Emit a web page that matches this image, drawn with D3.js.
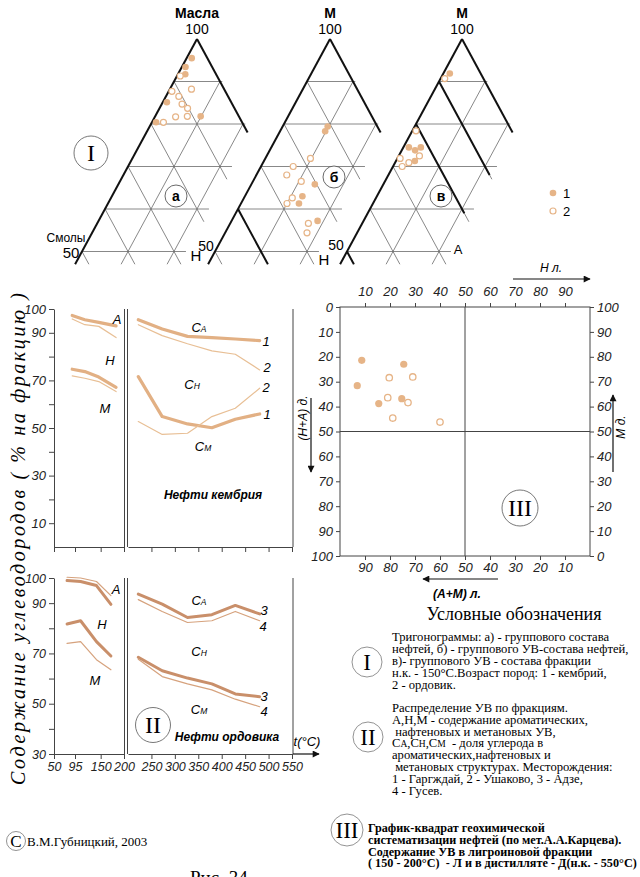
<!DOCTYPE html>
<html lang="ru">
<head>
<meta charset="UTF-8">
<title>Рис. 34</title>
<script src="https://d3js.org/d3.v7.min.js"></script>
<style>
  body { margin: 0; background: #fff; }
  svg { display: block; background: #fff; }
  .sans { font-family: "Liberation Sans", Arial, sans-serif; }
  .serif { font-family: "Liberation Serif", "Times New Roman", serif; }
  .ax .tick text { font-family: "Liberation Sans", Arial, sans-serif; font-style: italic; font-size: 13px; fill: #222; }
  .ax path, .ax line { stroke: #444; stroke-width: 1; }
</style>
</head>
<body>
<svg id="chart" width="640" height="877"></svg>
<script>
// ---------- I. тригонограммы (М %, Н %) ----------
const triAFilledM = [95.5, 93.4, 91.7, 85.1, 80.4, 81.8];
const triAFilledN = [1.1, 0.8, 1.6, 0.9, 0.9, 9.9];
const triAOpenM = [91.3, 87.7, 88.2, 86.5, 84.7, 83.7, 81.7, 81.8, 80.4];
const triAOpenN = [0.7, 0.7, 4.7, 2.8, 4.4, 6.1, 4.5, 7.0, 2.5];

const triBFilledM = [79.4, 78.3, 65.8, 63.0, 61.3, 57.2];
const triBFilledN = [9.8, 9.8, 13.8, 12.5, 12.6, 18.7];
const triBOpenM = [71.9, 70.0, 68.0, 66.5, 62.6, 61.3, 56.6, 54.4];
const triBOpenN = [9.8, 7.0, 6.6, 10.5, 10.5, 10.0, 17.0, 17.8];

const triVFilledM = [91.9, 74.5, 73.8, 74.5, 71.3];
const triVFilledN = [1.4, 1.2, 2.9, 3.8, 4.1];
const triVOpenM = [90.7, 78.4, 71.9, 72.5, 70.9, 70.0];
const triVOpenN = [0.9, 0.8, 0.6, 4.5, 3.0, 2.0];

// ---------- II. распределение УВ по фракциям ----------
const tLeftTop = [89, 116, 146, 183];
const tLeftBot = [78, 107, 141, 172];
const tRight = [222, 273, 327, 379, 429, 481];

const xTicksLeft = [50, 95, 150, 200];
const xTicksRight = [250, 300, 350, 400, 450, 500, 550];

// нефти кембрия: 1 - Гаргждай, 2 - Ушаково
const camA1 = [97.3, 95.5, 94.4, 92.9];
const camA2 = [95.8, 93.4, 92.7, 88.0];
const camH1 = [74.7, 73.7, 71.4, 67.1];
const camH2 = [71.9, 70.9, 69.5, 65.3];
const camCA1 = [95.5, 91.6, 88.5, 88.0, 87.4, 86.7];
const camCA2 = [93.4, 88.8, 85.4, 82.4, 81.0, 74.4];
const camCN1 = [71.6, 54.8, 51.7, 50.1, 53.7, 55.9];
const camCN2 = [52.7, 47.3, 47.8, 54.8, 58.3, 66.7];

// нефти ордовика: 3 - Адзе, 4 - Гусев
const ordA3 = [99.0, 98.6, 97.0, 89.5];
const ordA4 = [100.3, 100.0, 98.6, 93.0];
const ordH3 = [81.7, 83.0, 74.7, 69.0];
const ordH4 = [74.0, 74.7, 67.5, 63.5];
const ordCA3 = [93.6, 89.6, 84.3, 85.4, 89.1, 85.7];
const ordCA4 = [91.4, 86.7, 82.3, 83.0, 86.7, 83.0];
const ordCN3 = [68.5, 63.1, 60.2, 57.9, 53.9, 52.8];
const ordCN4 = [67.7, 60.8, 57.9, 55.5, 51.8, 48.8];

// ---------- III. график-квадрат (Н л., (Н+А) д.) ----------
const sqFilledNl = [8.7, 6.9, 25.5, 15.5, 24.7];
const sqFilledNAd = [21.4, 31.6, 23.0, 38.8, 36.8];
const sqOpenNl = [19.7, 29.1, 19.1, 27.2, 21.1, 40.0];
const sqOpenNAd = [28.4, 28.1, 36.4, 38.4, 44.6, 46.2];
const sqTicks = [0, 10, 20, 30, 40, 50, 60, 70, 80, 90, 100];

const DOT = "#e6b487";

const svg = d3.select("#chart");

svg.append("defs").append("marker")
    .attr("id", "arr")
    .attr("viewBox", "0 0 10 10")
    .attr("refX", 9).attr("refY", 5)
    .attr("markerWidth", 9).attr("markerHeight", 7)
    .attr("markerUnits", "userSpaceOnUse")
    .attr("orient", "auto")
    .append("path").attr("d", "M0,0 L10,5 L0,10 Z").attr("fill", "#111");

// ================= I: triangles =================
const ty = d3.scaleLinear().domain([100, 50]).range([39, 39 + 5 * 42.5]);
const K_LEFT = 2.3, K_N = 4.6;
const triPos = (ax, m, n) => [ax - (100 - m) * K_LEFT + n * K_N, ty(m)];

const triangles = [
    { ax: 197, top: "Масла", tag: "а", tagPos: [176, 196], fM: triAFilledM, fN: triAFilledN, oM: triAOpenM, oN: triAOpenN, extra: [] },
    { ax: 330, top: "М", tag: "б", tagPos: [334, 177], fM: triBFilledM, fN: triBFilledN, oM: triBOpenM, oN: triBOpenN, extra: [[40, 60, 47]] },
    { ax: 462, top: "М", tag: "в", tagPos: [441, 196], fM: triVFilledM, fN: triVFilledN, oM: triVOpenM, oN: triVOpenN, extra: [[10, 90, 68], [20, 80, 59], [50, 50, 47]] }
];

triangles.forEach(t => {
    const g = svg.append("g");
    const P = (m, n) => triPos(t.ax, m, n);
    const segs = [];
    [90, 80, 70, 60, 50].forEach(m => {
        const nmax = Math.min(20, 100 - m);
        segs.push([[m, 0], [m, nmax + (100 - m <= 20 ? 0.5 : 2.6)]]);
    });
    [10, 20].forEach(n => segs.push([[100 - n, n], [47, n]]));
    [10, 20, 30, 40, 50].forEach(s => {
        const mEnd = Math.max(80 - s, 50) - 3;
        segs.push([[100 - s, 0], [mEnd, 100 - mEnd - s]]);
    });
    g.selectAll(".grid").data(segs).enter().append("line")
        .attr("x1", d => P(...d[0])[0]).attr("y1", d => P(...d[0])[1])
        .attr("x2", d => P(...d[1])[0]).attr("y2", d => P(...d[1])[1])
        .attr("stroke", "#6a6a6a").attr("stroke-width", 0.8);

    // thick edges
    const thick = [[[100, 0], [47, 0]], [[100, 0], [78, 22]]];
    t.extra.forEach(([s, m0, m1]) => thick.push([[m0, 100 - m0 - s], [m1, 100 - m1 - s]]));
    g.selectAll(".edge").data(thick).enter().append("line")
        .attr("x1", d => P(...d[0])[0]).attr("y1", d => P(...d[0])[1])
        .attr("x2", d => P(...d[1])[0]).attr("y2", d => P(...d[1])[1])
        .attr("stroke", "#111").attr("stroke-width", 2);

    g.selectAll(".pf").data(t.fM).enter().append("circle")
        .attr("cx", (d, i) => P(d, t.fN[i])[0]).attr("cy", d => P(d, 0)[1])
        .attr("r", 3.3).attr("fill", DOT);
    g.selectAll(".po").data(t.oM).enter().append("circle")
        .attr("cx", (d, i) => P(d, t.oN[i])[0]).attr("cy", d => P(d, 0)[1])
        .attr("r", 3).attr("fill", "#fff").attr("stroke", DOT).attr("stroke-width", 1.2);

    g.append("text").attr("class", "sans").attr("x", t.ax).attr("y", 18)
        .attr("text-anchor", "middle").attr("font-size", 14).attr("font-weight", 600).text(t.top);
    g.append("text").attr("class", "sans").attr("x", t.ax).attr("y", 34)
        .attr("text-anchor", "middle").attr("font-size", 14).text("100");

    g.append("circle").attr("cx", t.tagPos[0]).attr("cy", t.tagPos[1]).attr("r", 11)
        .attr("fill", "#fff").attr("stroke", "#444").attr("stroke-width", 0.8);
    g.append("text").attr("class", "sans").attr("x", t.tagPos[0]).attr("y", t.tagPos[1] + 5)
        .attr("text-anchor", "middle").attr("font-size", 14).attr("font-weight", 600).text(t.tag);
});

// corner labels
const cornerLabels = [
    ["Смолы", 66, 242, 12], ["50", 71, 258, 15], ["Н", 196, 261, 15],
    ["50", 206, 251, 14], ["Н", 324, 265, 15],
    ["50", 336, 250, 14], ["А", 458, 254, 13]
];
svg.selectAll(".corner").data(cornerLabels).enter().append("text")
    .attr("class", "sans").attr("x", d => d[1]).attr("y", d => d[2])
    .attr("font-size", d => d[3]).attr("text-anchor", "middle").text(d => d[0]);

// roman I
svg.append("circle").attr("cx", 91).attr("cy", 153).attr("r", 17)
    .attr("fill", "none").attr("stroke", "#555").attr("stroke-width", 0.8);
svg.append("text").attr("class", "serif").attr("x", 91).attr("y", 161)
    .attr("text-anchor", "middle").attr("font-size", 24).text("I");

// triangle legend
svg.append("circle").attr("cx", 553).attr("cy", 193).attr("r", 3.3).attr("fill", DOT);
svg.append("circle").attr("cx", 553).attr("cy", 211).attr("r", 3).attr("fill", "#fff").attr("stroke", DOT).attr("stroke-width", 1.2);
svg.append("text").attr("class", "sans").attr("x", 563).attr("y", 198).attr("font-size", 13).text("1");
svg.append("text").attr("class", "sans").attr("x", 563).attr("y", 216).attr("font-size", 13).text("2");

// ================= II: fraction curves =================
const xL = d3.scaleLinear().domain([50, 200]).range([54, 124]);
const xR = d3.scaleLinear().domain([200, 550]).range([128, 292]);

function drawPanel(p) {
    const g = svg.append("g");
    g.append("g").attr("class", "ax").attr("transform", "translate(54,0)")
        .call(d3.axisLeft(p.y).tickValues(p.ticks).tickSize(5).tickSizeOuter(0)
            .tickFormat(d => p.labels.includes(d) ? d : ""));
    const fmt = p.showX ? (d => d) : (() => "");
    g.append("g").attr("class", "ax").attr("transform", `translate(0,${p.bottom})`)
        .call(d3.axisBottom(xL).tickValues(xTicksLeft).tickSize(5).tickSizeOuter(0).tickFormat(fmt));
    g.append("g").attr("class", "ax").attr("transform", `translate(0,${p.bottom})`)
        .call(d3.axisBottom(xR).tickValues(xTicksRight).tickSize(5).tickSizeOuter(0).tickFormat(fmt));
    if (p.showX) g.selectAll(".ax .tick text").attr("font-size", 12.5).style("font-size", "12.5px");

    // separator and right border
    [124.5, 127.5, 293].forEach(x => g.append("line")
        .attr("x1", x).attr("x2", x).attr("y1", p.top).attr("y2", p.bottom)
        .attr("stroke", "#444").attr("stroke-width", 1));

    p.series.forEach(s => {
        const xs = s.side === "L" ? xL : xR;
        const line = d3.line().x((d, i) => xs(s.t[i])).y(d => p.y(Math.min(d, 100.3)));
        g.append("path").datum(s.v).attr("d", line)
            .attr("fill", "none").attr("stroke", s.c).attr("stroke-width", s.w)
            .attr("stroke-linejoin", "round").attr("stroke-linecap", "round");
    });

    p.text.forEach(tx => {
        const el = g.append("text").attr("class", "sans").attr("x", tx[1]).attr("y", tx[2])
            .attr("font-size", tx[3] || 13).attr("font-style", "italic").attr("text-anchor", "middle")
            .attr("font-weight", tx[4] || 400);
        if (tx[0].length === 2 && tx[0][0] === "С") {
            el.append("tspan").text("С");
            el.append("tspan").attr("font-size", 8.5).text(tx[0][1]);
        } else el.text(tx[0]);
    });
}

const yTop = d3.scaleLinear().domain([0, 100]).range([547, 309]);
const yBot = d3.scaleLinear().domain([30, 100]).range([754, 578]);

const THICK_T = "#e2b084", THIN_T = "#e8bf95";
const THICK_B = "#c98f6a", THIN_B = "#d6a27d";

drawPanel({
    y: yTop, top: 309, bottom: 547, showX: false,
    ticks: d3.range(10, 101, 10), labels: [10, 30, 50, 70, 90, 100],
    series: [
        { side: "L", t: tLeftTop, v: camA1, c: THICK_T, w: 3.2 },
        { side: "L", t: tLeftTop, v: camA2, c: THIN_T, w: 1.2 },
        { side: "L", t: tLeftTop, v: camH1, c: THICK_T, w: 3.2 },
        { side: "L", t: tLeftTop, v: camH2, c: THIN_T, w: 1.2 },
        { side: "R", t: tRight, v: camCA1, c: THICK_T, w: 3.2 },
        { side: "R", t: tRight, v: camCA2, c: THIN_T, w: 1.2 },
        { side: "R", t: tRight, v: camCN1, c: THICK_T, w: 3.2 },
        { side: "R", t: tRight, v: camCN2, c: THIN_T, w: 1.2 }
    ],
    text: [
        ["А", 117, 324], ["Н", 110, 365], ["М", 105, 413],
        ["СА", 199, 332], ["СН", 192, 389], ["СМ", 203, 451],
        ["1", 266, 346], ["2", 267, 372], ["2", 266, 392], ["1", 267, 419],
        ["Нефти кембрия", 213, 499, 12, 600]
    ]
});

drawPanel({
    y: yBot, top: 578, bottom: 754, showX: true,
    ticks: d3.range(30, 101, 10), labels: [30, 50, 70, 90, 100],
    series: [
        { side: "L", t: tLeftBot, v: ordA3, c: THICK_B, w: 3 },
        { side: "L", t: tLeftBot, v: ordA4, c: THIN_B, w: 1.2 },
        { side: "L", t: tLeftBot, v: ordH3, c: THICK_B, w: 3 },
        { side: "L", t: tLeftBot, v: ordH4, c: THIN_B, w: 1.2 },
        { side: "R", t: tRight, v: ordCA3, c: THICK_B, w: 3 },
        { side: "R", t: tRight, v: ordCA4, c: THIN_B, w: 1.2 },
        { side: "R", t: tRight, v: ordCN3, c: THICK_B, w: 3 },
        { side: "R", t: tRight, v: ordCN4, c: THIN_B, w: 1.2 }
    ],
    text: [
        ["А", 116, 594], ["Н", 102, 629], ["М", 95, 685],
        ["СА", 199, 605], ["СН", 199, 656], ["СМ", 199, 714],
        ["3", 264, 615], ["4", 263, 631], ["3", 264, 701], ["4", 264, 716],
        ["Нефти ордовика", 227, 741, 12, 600]
    ]
});

// x arrow and label
svg.append("line").attr("x1", 293).attr("x2", 319).attr("y1", 754).attr("y2", 754)
    .attr("stroke", "#111").attr("stroke-width", 1.2).attr("marker-end", "url(#arr)");
svg.append("text").attr("class", "sans").attr("x", 307).attr("y", 746).attr("text-anchor", "middle")
    .attr("font-size", 13).attr("font-style", "italic").text("t(°C)");

// II circle
svg.append("circle").attr("cx", 153).attr("cy", 725).attr("r", 17.5)
    .attr("fill", "#fff").attr("stroke", "#555").attr("stroke-width", 0.8);
svg.append("text").attr("class", "serif").attr("x", 153).attr("y", 733)
    .attr("text-anchor", "middle").attr("font-size", 24).text("II");

// y title
svg.append("text").attr("class", "serif")
    .attr("transform", "translate(25,539) rotate(-90)")
    .attr("text-anchor", "middle").attr("font-size", 20).attr("font-style", "italic")
    .attr("textLength", 492).attr("lengthAdjust", "spacing")
    .text("Содержание углеводородов ( % на фракцию )");

// ================= III: square =================
const sqX = d3.scaleLinear().domain([0, 100]).range([340, 590]);
const sqXb = d3.scaleLinear().domain([100, 0]).range([340, 590]);
const sqY = d3.scaleLinear().domain([0, 100]).range([307, 556]);
const sqYr = d3.scaleLinear().domain([100, 0]).range([307, 556]);

const sq = svg.append("g");
sq.append("rect").attr("x", 340).attr("y", 307).attr("width", 250).attr("height", 249)
    .attr("fill", "none").attr("stroke", "#444");
sq.append("line").attr("x1", sqX(50)).attr("x2", sqX(50)).attr("y1", 307).attr("y2", 556).attr("stroke", "#444");
sq.append("line").attr("x1", 340).attr("x2", 590).attr("y1", sqY(50)).attr("y2", sqY(50)).attr("stroke", "#444");

const inner = sqTicks.filter(d => d > 0 && d < 100);
sq.append("g").attr("class", "ax").attr("transform", "translate(0,307)")
    .call(d3.axisTop(sqX).tickValues(inner).tickSize(4).tickPadding(7).tickSizeOuter(0));
sq.append("g").attr("class", "ax").attr("transform", "translate(0,556)")
    .call(d3.axisBottom(sqXb).tickValues(inner).tickSize(4).tickSizeOuter(0));
sq.append("g").attr("class", "ax").attr("transform", "translate(340,0)")
    .call(d3.axisLeft(sqY).tickValues(sqTicks).tickSize(4).tickSizeOuter(0));
sq.append("g").attr("class", "ax").attr("transform", "translate(590,0)")
    .call(d3.axisRight(sqYr).tickValues(sqTicks).tickSize(4).tickSizeOuter(0));
sq.selectAll(".domain").remove();

sq.selectAll(".sf").data(sqFilledNl).enter().append("circle")
    .attr("cx", d => sqX(d)).attr("cy", (d, i) => sqY(sqFilledNAd[i]))
    .attr("r", 3.6).attr("fill", DOT);
sq.selectAll(".so").data(sqOpenNl).enter().append("circle")
    .attr("cx", d => sqX(d)).attr("cy", (d, i) => sqY(sqOpenNAd[i]))
    .attr("r", 3.2).attr("fill", "#fff").attr("stroke", DOT).attr("stroke-width", 1.3);

// arrows
const arrows = [[513, 279, 590, 279], [311, 398, 311, 472], [613, 472, 613, 395], [498, 579, 423, 579]];
sq.selectAll(".arrow").data(arrows).enter().append("line")
    .attr("x1", d => d[0]).attr("y1", d => d[1]).attr("x2", d => d[2]).attr("y2", d => d[3])
    .attr("stroke", "#111").attr("stroke-width", 1.2).attr("marker-end", "url(#arr)");
sq.append("text").attr("class", "sans").attr("x", 551).attr("y", 272).attr("text-anchor", "middle")
    .attr("font-size", 12).attr("font-style", "italic").text("Н л.");
sq.append("text").attr("class", "sans").attr("transform", "translate(307,418) rotate(-90)")
    .attr("text-anchor", "middle").attr("font-size", 12).attr("font-style", "italic").text("(Н+А) д.");
sq.append("text").attr("class", "sans").attr("transform", "translate(625,427) rotate(-90)")
    .attr("text-anchor", "middle").attr("font-size", 12).attr("font-style", "italic").text("М д.");
sq.append("text").attr("class", "sans").attr("x", 457).attr("y", 598).attr("text-anchor", "middle")
    .attr("font-size", 12).attr("font-style", "italic").attr("font-weight", 700).text("(А+М) л.");

sq.append("circle").attr("cx", 520).attr("cy", 508).attr("r", 18)
    .attr("fill", "#fff").attr("stroke", "#555").attr("stroke-width", 0.8);
sq.append("text").attr("class", "serif").attr("x", 520).attr("y", 516)
    .attr("text-anchor", "middle").attr("font-size", 24).text("III");

// ================= legend =================
const leg = svg.append("g").attr("class", "serif");
leg.append("text").attr("x", 514).attr("y", 620).attr("text-anchor", "middle")
    .attr("font-size", 18).text("Условные обозначения");

const legCircles = [["I", 367, 662, 15], ["II", 368, 737, 15], ["III", 347, 830, 16]];
legCircles.forEach(([t, x, y, r]) => {
    leg.append("circle").attr("cx", x).attr("cy", y).attr("r", r)
        .attr("fill", "none").attr("stroke", "#777").attr("stroke-width", 0.8);
    leg.append("text").attr("x", x).attr("y", y + 8).attr("text-anchor", "middle")
        .attr("font-size", 23).text(t);
});

const LEG_FS = 12.6;
const legI = [
    "Тригонограммы: а) - группового состава",
    "нефтей, б) - группового УВ-состава нефтей,",
    "в)- группового УВ - состава фракции",
    "н.к. - 150°С.Возраст пород: 1 - кембрий,",
    "2 - ордовик."
];
leg.selectAll(".l1").data(legI).enter().append("text")
    .attr("x", 392).attr("y", (d, i) => 641 + i * 12.1)
    .attr("font-size", LEG_FS).text(d => d);

const legII = [
    "Распределение УВ по фракциям.",
    "А,Н,М - содержание ароматических,",
    " нафтеновых и метановых УВ,",
    null,
    "ароматических,нафтеновых и",
    " метановых структурах. Месторождения:",
    "1 - Гаргждай, 2 - Ушаково, 3 - Адзе,",
    "4 - Гусев."
];
legII.forEach((d, i) => {
    const y = 712 + i * 11.8;
    if (d !== null) {
        leg.append("text").attr("x", 392).attr("y", y)
            .attr("font-size", LEG_FS).attr("xml:space", "preserve").text(d);
        return;
    }
    const cLine = leg.append("text").attr("x", 392).attr("y", y).attr("font-size", LEG_FS)
        .attr("xml:space", "preserve");
    cLine.text("С");
    [["А", 9.5], [",С", LEG_FS], ["Н", 9.5], [",С", LEG_FS], ["М", 9.5], ["  - доля углерода в", LEG_FS]]
        .forEach(([t, fs]) => cLine.append("tspan").attr("font-size", fs).text(t));
});

const legIII = [
    "График-квадрат геохимической",
    "систематизации нефтей (по мет.А.А.Карцева).",
    "Содержание УВ в лигроиновой фракции",
    "( 150 - 200°С)  - Л и в дистилляте - Д(н.к. - 550°С)"
];
leg.selectAll(".l3").data(legIII).enter().append("text")
    .attr("x", 368).attr("y", (d, i) => 832 + i * 11.8)
    .attr("font-size", 12.2).attr("font-weight", 700).attr("xml:space", "preserve").text(d => d);

// copyright and caption
svg.append("circle").attr("cx", 16).attr("cy", 841).attr("r", 9.5)
    .attr("fill", "none").attr("stroke", "#777").attr("stroke-width", 0.8);
svg.append("text").attr("class", "serif").attr("x", 16).attr("y", 847).attr("text-anchor", "middle")
    .attr("font-size", 17).text("C");
svg.append("text").attr("class", "serif").attr("x", 27).attr("y", 846)
    .attr("font-size", 13).text("В.М.Губницкий, 2003");
svg.append("text").attr("class", "serif").attr("x", 190).attr("y", 884)
    .attr("font-size", 19).text("Рис. 34");
</script>
</body>
</html>
